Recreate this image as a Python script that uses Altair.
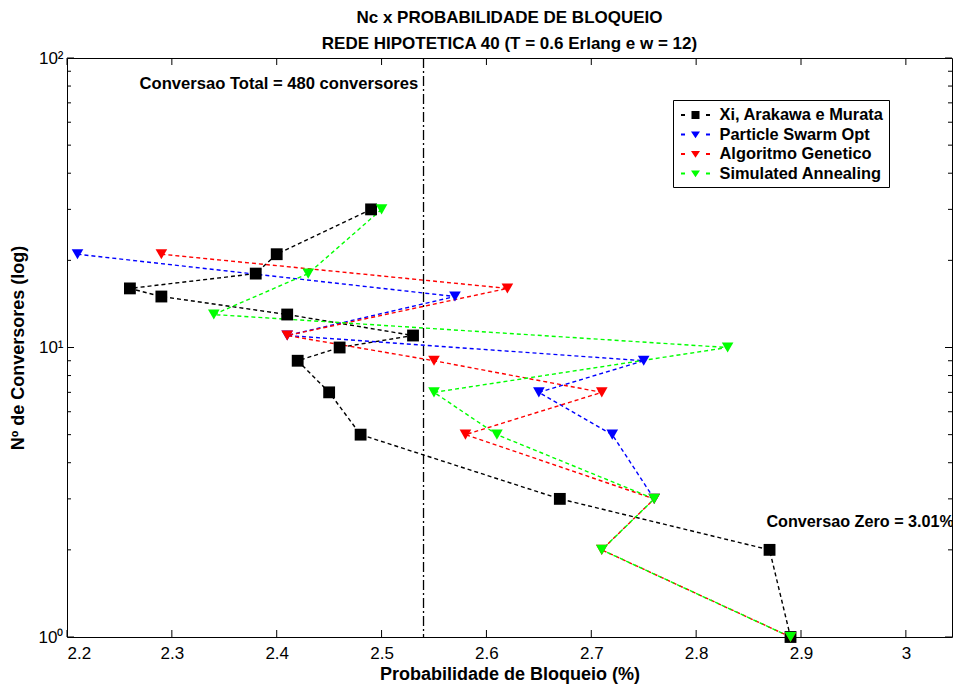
import altair as alt
import pandas as pd

# Series definitions (blocking probability in %, number of converters)
series_names = ["Xi, Arakawa e Murata", "Particle Swarm Opt", "Algoritmo Genetico", "Simulated Annealing"]
series_colors = ["#000000", "#0000ff", "#ff0000", "#00ff00"]

xi_nc = [30, 21, 18, 16, 15, 13, 11, 10, 9, 7, 5, 3, 2, 1]
xi_pb = [2.49, 2.40, 2.38, 2.26, 2.29, 2.41, 2.53, 2.46, 2.42, 2.45, 2.48, 2.67, 2.87, 2.89]

pso_nc = [21, 15, 11, 9, 7, 5, 3]
pso_pb = [2.21, 2.57, 2.41, 2.75, 2.65, 2.72, 2.76]

ag_nc = [21, 16, 11, 9, 7, 5, 3, 2, 1]
ag_pb = [2.29, 2.62, 2.41, 2.55, 2.71, 2.58, 2.76, 2.71, 2.89]

sa_nc = [30, 18, 13, 10, 7, 5, 3, 2, 1]
sa_pb = [2.50, 2.43, 2.34, 2.83, 2.55, 2.61, 2.76, 2.71, 2.89]

# Axis ticks
x_ticks = [2.2, 2.3, 2.4, 2.5, 2.6, 2.7, 2.8, 2.9, 3.0]
y_major = [1, 10, 100]
y_minor = [2, 3, 4, 5, 6, 7, 8, 9, 20, 30, 40, 50, 60, 70, 80, 90]

# Reference line and annotations
total_conv_pb = 2.54
note_left_text = ["Conversao Total = 480 conversores"]
note_left_pb = [2.535]
note_left_nc = [81]
note_right_text = ["Conversao Zero = 3.01%"]
note_right_pb = [2.867]
note_right_nc = [2.5]

W, H = 885, 579

x_scale = alt.Scale(domain=[2.2, 3.044], nice=False, zero=False)
y_scale = alt.Scale(type="log", domain=[1, 100], nice=False)
color_scale = alt.Scale(domain=series_names, range=series_colors)

# legend symbols: "- marker -" (wider than the unit box so rows stay compact)
leg_square = "M-1.45,-0.1H-1.05V0.1H-1.45Z M-0.4,-0.4H0.4V0.4H-0.4Z M1.05,-0.1H1.45V0.1H1.05Z"
leg_tri = "M-1.45,-0.1H-1.05V0.1H-1.45Z M-0.45,-0.3H0.45L0,0.38Z M1.05,-0.1H1.45V0.1H1.05Z"
shape_scale = alt.Scale(domain=series_names, range=[leg_square, leg_tri, leg_tri, leg_tri])

x_axis = alt.Axis(
    values=x_ticks, format="~g", title="Probabilidade de Bloqueio (%)",
    tickSize=0, domain=False, grid=False, labelPadding=8, titlePadding=4,
)
y_axis = alt.Axis(
    values=y_major, title="Nº de Conversores (log)",
    labelExpr="'10' + (datum.value == 1 ? '⁰' : datum.value == 10 ? '¹' : '²')",
    tickSize=0, domain=False, grid=False, labelPadding=4, titlePadding=11,
)
legend_def = alt.Legend(title=None, orient="none", legendX=606, legendY=42)

X = alt.X("pb:Q", scale=x_scale, axis=x_axis)
Y = alt.Y("nc:Q", scale=y_scale, axis=y_axis)
C = alt.Color("series:N", scale=color_scale, sort=series_names, legend=legend_def)


def frame(name, pb, nc):
    return pd.DataFrame({"series": name, "pb": pb, "nc": nc, "idx": list(range(len(pb)))})


frames = [
    frame(series_names[0], xi_pb, xi_nc),
    frame(series_names[1], pso_pb, pso_nc),
    frame(series_names[2], ag_pb, ag_nc),
    frame(series_names[3], sa_pb, sa_nc),
]

layers = []

# dashed connecting lines, one layer per series
for df in frames:
    layers.append(
        alt.Chart(df).mark_line(strokeDash=[4, 3], strokeWidth=1.4).encode(
            x=X, y=Y, color=C, order="idx:Q"
        )
    )

# markers
for i, df in enumerate(frames):
    shape = "square" if i == 0 else "triangle-down"
    size = 140 if i == 0 else 135
    layers.append(
        alt.Chart(df).mark_point(filled=True, opacity=1, shape=shape, size=size).encode(
            x=X, y=Y, color=C
        )
    )

# vertical dash-dot line: total conversion
layers.append(
    alt.Chart(pd.DataFrame({"pb": [total_conv_pb]})).mark_rule(
        color="black", strokeWidth=1.3, strokeDash=[10, 3, 2, 3]
    ).encode(x=X)
)

text_style = dict(font="Liberation Sans", fontWeight="bold", color="black", baseline="middle")
layers.append(
    alt.Chart(pd.DataFrame({"t": note_left_text, "pb": note_left_pb, "nc": note_left_nc}))
    .mark_text(align="right", fontSize=16.6, **text_style)
    .encode(x=X, y=Y, text="t:N")
)
layers.append(
    alt.Chart(pd.DataFrame({"t": note_right_text, "pb": note_right_pb, "nc": note_right_nc}))
    .mark_text(align="left", fontSize=16.2, **text_style)
    .encode(x=X, y=Y, text="t:N")
)

# inward ticks on all four sides
xt = pd.DataFrame({"pb": x_ticks})
for y0, y1 in [(H, H - 7), (0, 7)]:
    layers.append(
        alt.Chart(xt).mark_rule(color="black", strokeWidth=1).encode(
            x=X, y=alt.value(y0), y2=alt.value(y1)
        )
    )
for vals, ln in [(y_major, 7), (y_minor, 4)]:
    yt = pd.DataFrame({"nc": vals})
    for x0, x1 in [(0, ln), (W, W - ln)]:
        layers.append(
            alt.Chart(yt).mark_rule(color="black", strokeWidth=1).encode(
                y=Y, x=alt.value(x0), x2=alt.value(x1)
            )
        )

# legend entries: fully transparent markers, only the legend shows them
layers.append(
    alt.Chart(pd.DataFrame({"series": series_names})).mark_point(
        filled=True, opacity=0
    ).encode(
        x=alt.value(0),
        y=alt.value(0),
        color=C,
        shape=alt.Shape("series:N", scale=shape_scale, sort=series_names, legend=legend_def),
    )
)

chart = (
    alt.layer(*layers)
    .properties(
        width=W,
        height=H,
        background="white",
        autosize=alt.AutoSizeParams(type="none"),
        padding={"left": 67, "top": 58, "right": 1, "bottom": 49},
        title=alt.TitleParams(
            text=["Nc x PROBABILIDADE DE BLOQUEIO", "REDE HIPOTETICA 40 (T = 0.6 Erlang e w = 12)"],
            font="Liberation Sans",
            fontSize=17,
            fontWeight="bold",
            color="black",
            lineHeight=26,
            offset=2,
            dy=6,
            anchor="middle",
        ),
    )
    .configure_view(stroke="black", strokeWidth=1)
    .configure_axis(
        labelFont="Liberation Sans", labelFontSize=17, labelColor="black",
        titleFont="Liberation Sans", titleFontSize=18, titleFontWeight="bold", titleColor="black",
    )
    .configure_legend(
        strokeColor="black", fillColor="white", padding=5, cornerRadius=0,
        labelFont="Liberation Sans", labelFontSize=16.4, labelFontWeight="bold", labelColor="black",
        labelOffset=14, symbolOffset=7.5, symbolSize=400, symbolStrokeWidth=0,
        rowPadding=0.5, labelLimit=400,
    )
)

chart.save("out.html", embed_options={"renderer": "svg", "actions": False})
